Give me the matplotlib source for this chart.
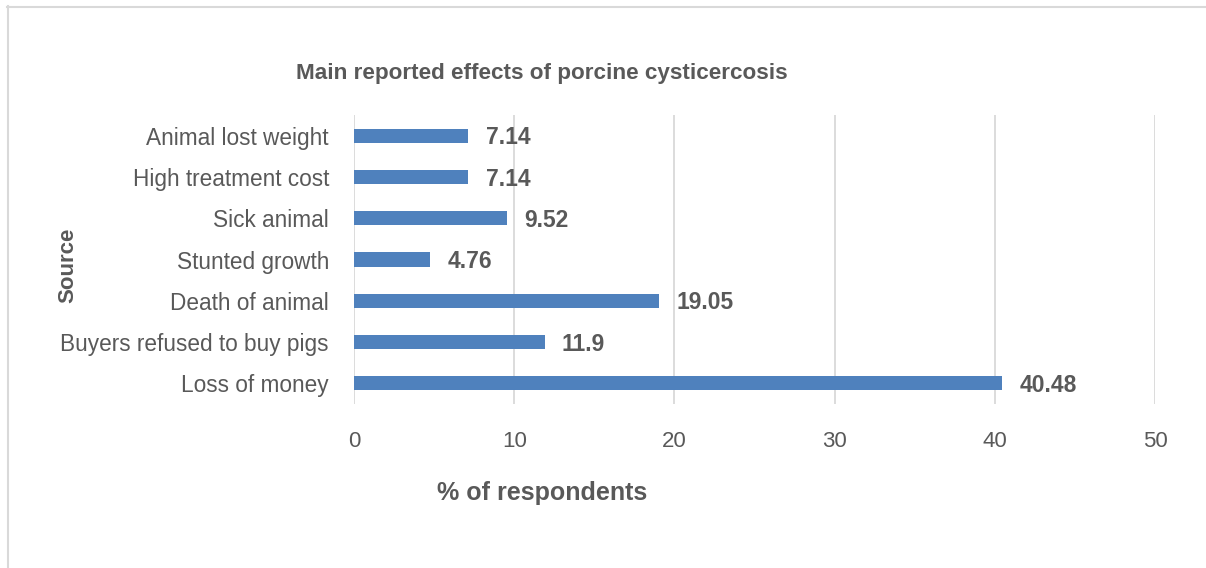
import matplotlib
matplotlib.use("Agg")
import matplotlib.pyplot as plt
from matplotlib.lines import Line2D

categories = ["Animal lost weight", "High treatment cost", "Sick animal", "Stunted growth",
              "Death of animal", "Buyers refused to buy pigs", "Loss of money"]
values = [7.14, 7.14, 9.52, 4.76, 19.05, 11.9, 40.48]
value_labels = ["7.14", "7.14", "9.52", "4.76", "19.05", "11.9", "40.48"]
xticks = [0, 10, 20, 30, 40, 50]

plt.rcParams['font.family'] = ['Liberation Sans', 'DejaVu Sans']
txt = "#595959"

fig = plt.figure(figsize=(12.06, 5.68), dpi=100)
ax = fig.add_axes([354/1206, 1-404/568, (1155-354)/1206, (404-115)/568])

ypos = list(range(len(categories)))[::-1]
ax.barh(ypos, values, height=0.34, color="#4f81bd", zorder=3)
for y, v, lab in zip(ypos, values, value_labels):
    ax.annotate(lab, (v, y), xytext=(12.5, -1.5), textcoords="offset points",
                ha="left", va="center", fontsize=16.5, fontweight="bold", color=txt)

ax.set_xlim(0, 50)
ax.set_ylim(-0.5, len(categories)-0.5)
ax.set_xticks(xticks)
ax.set_xticklabels([str(t) for t in xticks])
ax.set_yticks(ypos)
ax.set_yticklabels(categories)
ax.tick_params(axis='x', length=0, pad=19.5, labelsize=16, labelcolor=txt)
ax.tick_params(axis='y', length=0, pad=18, labelsize=16.3, labelcolor=txt)
ax.grid(axis='x', color="#d9d9d9", linewidth=1.3, zorder=0)
for s in ax.spines.values():
    s.set_visible(False)

fig.text(542/1206, 1-74/568, "Main reported effects of porcine cysticercosis",
         ha="center", va="center", fontsize=16.2, fontweight="bold", color=txt)
fig.text(542/1206, 1-493/568, "% of respondents", ha="center", va="center",
         fontsize=18, fontweight="bold", color=txt)
fig.text(68/1206, 1-265/568, "Source", ha="center", va="center", rotation=90,
         fontsize=16, fontweight="bold", color=txt)

fig.add_artist(Line2D([7/1206, 1], [1-6.5/568, 1-6.5/568], color="#d9d9d9", linewidth=1.5))
fig.add_artist(Line2D([7.5/1206, 7.5/1206], [0, 1-6/568], color="#d9d9d9", linewidth=1.5))

fig.savefig("out.png", dpi=100)
